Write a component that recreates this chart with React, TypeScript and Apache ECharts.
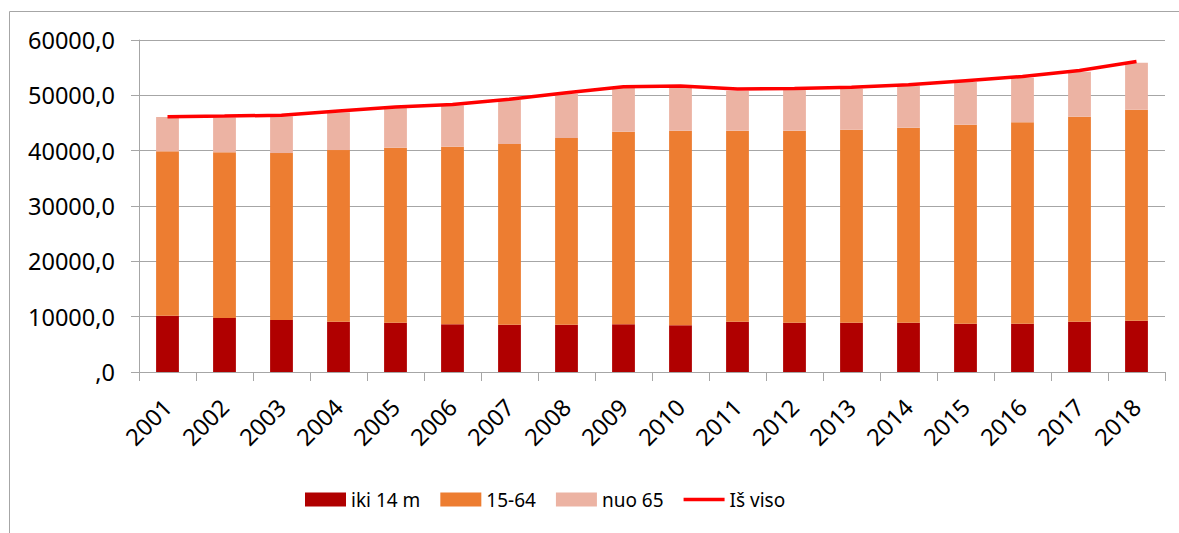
import React, { useEffect, useRef } from "react";
import * as echarts from "echarts";

const years = ["2001","2002","2003","2004","2005","2006","2007","2008","2009","2010","2011","2012","2013","2014","2015","2016","2017","2018"];
const iki14 = [10180, 9760, 9400, 9090, 8910, 8610, 8550, 8550, 8610, 8430, 9090, 8910, 8910, 8910, 8730, 8730, 9090, 9270];
const age1564 = [29700, 29940, 30170, 31020, 31620, 32100, 32650, 33740, 34820, 35180, 34520, 34700, 34870, 35240, 35960, 36390, 37040, 38130];
const nuo65 = [6200, 6300, 6630, 6820, 7170, 7480, 7950, 8000, 7940, 7760, 7220, 7350, 7410, 7530, 7710, 8060, 8140, 8490];
const isViso = [46150, 46250, 46400, 47150, 47900, 48350, 49300, 50450, 51550, 51700, 51150, 51250, 51450, 51900, 52650, 53400, 54500, 56100];
const yTicks = { min: 0, max: 60000, interval: 10000 };

const FONT = "Noto Sans";

export default function App() {
  const ref = useRef<HTMLDivElement>(null);
  useEffect(() => {
    const chart = echarts.init(ref.current!, null, { renderer: "svg" });
    chart.setOption({
      animation: false,
      backgroundColor: "#ffffff",
      textStyle: { fontFamily: FONT },
      graphic: [
        {
          type: "rect",
          shape: { x: 9.5, y: 11.5, width: 1200, height: 600 },
          style: { fill: "none", stroke: "#a6a6a6", lineWidth: 1 },
          silent: true,
        },
      ],
      grid: { left: 139, right: 14, top: 40, bottom: 161, containLabel: false },
      legend: {
        top: 485,
        left: 300,
        itemWidth: 41,
        itemHeight: 14,
        itemGap: 20,
        symbolKeepAspect: true,
        textStyle: { fontFamily: FONT, fontSize: 19, color: "#000" },
        data: [
          { name: "iki 14 m", icon: "rect" },
          { name: "15-64", icon: "rect" },
          { name: "nuo 65", icon: "rect" },
          { name: "Iš viso", icon: "path://M0,0H44V4H0Z", itemStyle: { color: "#ff0000" } },
        ],
      },
      xAxis: {
        type: "category",
        data: years,
        axisLine: { lineStyle: { color: "#a6a6a6", width: 1 } },
        axisTick: { show: true, length: 9, lineStyle: { color: "#a6a6a6" } },
        axisLabel: {
          rotate: 45,
          fontFamily: FONT,
          fontSize: 23.5,
          color: "#000",
          margin: 31,
        },
      },
      yAxis: {
        type: "value",
        min: yTicks.min,
        max: yTicks.max,
        interval: yTicks.interval,
        axisLine: { show: true, lineStyle: { color: "#a6a6a6", width: 1 } },
        axisTick: { show: true, inside: false, length: 8, lineStyle: { color: "#a6a6a6" } },
        splitLine: { show: true, lineStyle: { color: "#a6a6a6", width: 1 } },
        axisLabel: {
          fontFamily: FONT,
          fontSize: 23.5,
          color: "#000",
          margin: 24,
          formatter: (v: number) => (v === 0 ? ",0" : `${v},0`),
        },
      },
      series: [
        {
          name: "iki 14 m",
          type: "bar",
          stack: "a",
          barWidth: "40%",
          data: iki14,
          itemStyle: { color: "#b00000" },
        },
        {
          name: "15-64",
          type: "bar",
          stack: "a",
          barWidth: "40%",
          data: age1564,
          itemStyle: { color: "#ed7d31" },
        },
        {
          name: "nuo 65",
          type: "bar",
          stack: "a",
          barWidth: "40%",
          data: nuo65,
          itemStyle: { color: "#ecb3a3" },
        },
        {
          name: "Iš viso",
          type: "line",
          data: isViso,
          symbol: "none",
          showSymbol: false,
          lineStyle: { color: "#ff0000", width: 3.5 },
          itemStyle: { color: "#ff0000" },
          z: 5,
        },
      ],
    });
    return () => chart.dispose();
  }, []);
  return (
    <div
      ref={ref}
      style={{ position: "fixed", left: 0, top: 0, width: 1179, height: 533 }}
    />
  );
}
